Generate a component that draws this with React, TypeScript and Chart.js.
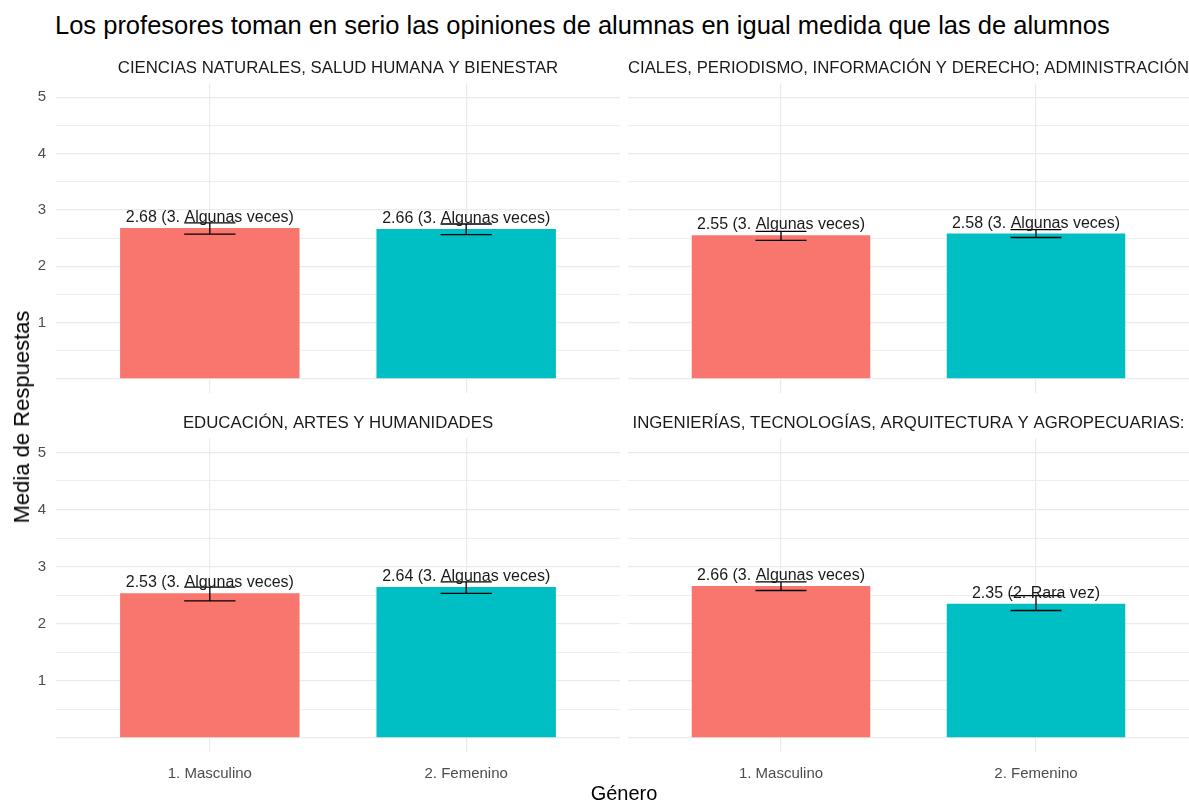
import React, { useEffect, useRef } from "react";
import { Chart, registerables } from "chart.js";

Chart.register(...registerables);

const FONT = "'Liberation Sans', Arial, sans-serif";

const titulo =
  "Los profesores toman en serio las opiniones de alumnas en igual medida que las de alumnos";
const tituloEjeY = "Media de Respuestas";
const tituloEjeX = "Género";

const areas = [
  "CIENCIAS NATURALES, SALUD HUMANA Y BIENESTAR",
  "CIALES, PERIODISMO, INFORMACIÓN Y DERECHO; ADMINISTRACIÓN",
  "EDUCACIÓN, ARTES Y HUMANIDADES",
  "INGENIERÍAS, TECNOLOGÍAS, ARQUITECTURA Y AGROPECUARIAS:",
];

const generos = ["1. Masculino", "2. Femenino"];
const generoPos = [1, 2];

const mediaMasculino = [2.68, 2.55, 2.53, 2.66];
const mediaFemenino = [2.66, 2.58, 2.64, 2.35];

const infMasculino = [2.57, 2.46, 2.4, 2.58];
const supMasculino = [2.77, 2.62, 2.64, 2.73];
const infFemenino = [2.56, 2.51, 2.53, 2.23];
const supFemenino = [2.75, 2.65, 2.73, 2.49];

const categoriaMasculino = ["3. Algunas veces", "3. Algunas veces", "3. Algunas veces", "3. Algunas veces"];
const categoriaFemenino = ["3. Algunas veces", "3. Algunas veces", "3. Algunas veces", "2. Rara vez"];

const yTicks = [0, 0.5, 1, 1.5, 2, 2.5, 3, 3.5, 4, 4.5, 5];
const colores = ["#F8766D", "#00BFC4"];

type PanelProps = {
  idx: number;
  left: number;
  top: number;
  width: number;
  height: number;
  showY: boolean;
  showX: boolean;
};

function zeroPadding(s: any) {
  s.paddingTop = 0;
  s.paddingBottom = 0;
  s.paddingLeft = 0;
  s.paddingRight = 0;
}

function Panel({ idx, left, top, width, height, showY, showX }: PanelProps) {
  const ref = useRef<HTMLCanvasElement | null>(null);

  useEffect(() => {
    if (!ref.current) return;
    const medias = [mediaMasculino[idx], mediaFemenino[idx]];
    const inf = [infMasculino[idx], infFemenino[idx]];
    const sup = [supMasculino[idx], supFemenino[idx]];
    const cats = [categoriaMasculino[idx], categoriaFemenino[idx]];

    const errorPlugin = {
      id: "errorYEtiquetas",
      afterDatasetsDraw(chart: any) {
        const ctx = chart.ctx;
        const xs = chart.scales.x;
        const ys = chart.scales.y;
        const meta = chart.getDatasetMeta(0);
        ctx.save();
        meta.data.forEach((el: any, i: number) => {
          const x = el.x;
          const half = Math.abs(xs.getPixelForValue(generoPos[i] + 0.1) - xs.getPixelForValue(generoPos[i]));
          const yl = ys.getPixelForValue(inf[i]);
          const yh = ys.getPixelForValue(sup[i]);
          ctx.strokeStyle = "#000000";
          ctx.lineWidth = 1.3;
          ctx.beginPath();
          ctx.moveTo(x, yl);
          ctx.lineTo(x, yh);
          ctx.moveTo(x - half, yl);
          ctx.lineTo(x + half, yl);
          ctx.moveTo(x - half, yh);
          ctx.lineTo(x + half, yh);
          ctx.stroke();
        });
        meta.data.forEach((el: any, i: number) => {
          const yTop = ys.getPixelForValue(medias[i]);
          ctx.fillStyle = "#1A1A1A";
          ctx.font = `16px ${FONT}`;
          ctx.textAlign = "center";
          ctx.textBaseline = "alphabetic";
          ctx.fillText(`${medias[i].toFixed(2)} (${cats[i]})`, el.x, yTop - 6);
        });
        ctx.restore();
      },
    };

    const chart = new Chart(ref.current, {
      type: "bar",
      data: {
        datasets: [
          {
            data: generoPos.map((g, i) => ({ x: g, y: medias[i] })),
            backgroundColor: colores,
            borderWidth: 0,
            barPercentage: 0.7,
            categoryPercentage: 1,
          },
        ],
      },
      options: {
        animation: false,
        responsive: false,
        layout: { padding: { left: 0, right: 0, top: 0, bottom: 0 } },
        plugins: {
          legend: { display: false },
          tooltip: { enabled: false },
          title: {
            display: true,
            text: areas[idx],
            fullSize: false,
            align: idx === 1 ? "start" : "center",
            color: "#1A1A1A",
            font: { size: 16.8, weight: "normal", family: FONT, lineHeight: 1.2 },
            padding: { top: 8, bottom: 5 },
          },
        },
        scales: {
          x: {
            type: "linear",
            min: 0.4,
            max: 2.6,
            offset: false,
            afterBuildTicks: (s: any) => {
              s.ticks = generoPos.map((v) => ({ value: v }));
            },
            afterFit: (s: any) => {
              s.height = showX ? 30 : 0;
              zeroPadding(s);
            },
            ticks: {
              display: showX,
              autoSkip: false,
              maxRotation: 0,
              padding: 13,
              color: "#4D4D4D",
              font: { size: 15, family: FONT },
              callback: (v: any) => {
                const k = generoPos.indexOf(Number(v));
                return k >= 0 ? generos[k] : "";
              },
            },
            grid: { color: "#EBEBEB", lineWidth: 1.2, drawTicks: false, offset: false },
            border: { display: false },
          },
          y: {
            min: -0.25,
            max: 5.25,
            afterBuildTicks: (s: any) => {
              s.ticks = yTicks.map((v) => ({ value: v }));
            },
            afterFit: (s: any) => {
              s.width = showY ? 56 : 8;
              zeroPadding(s);
            },
            ticks: {
              display: showY,
              autoSkip: false,
              padding: 10,
              color: "#4D4D4D",
              font: { size: 15, family: FONT },
              callback: (v: any) => (Number.isInteger(v) && v > 0 ? String(v) : ""),
            },
            grid: {
              color: "#EBEBEB",
              drawTicks: false,
              lineWidth: (c: any) => (c.tick && Number.isInteger(c.tick.value) ? 1.2 : 0.8),
            },
            border: { display: false },
          },
        },
      },
      plugins: [errorPlugin],
    } as any);
    return () => chart.destroy();
  }, [idx, showX, showY]);

  return (
    <canvas
      ref={ref}
      width={width}
      height={height}
      style={{ position: "absolute", left, top, width, height }}
    />
  );
}

export default function App() {
  return (
    <div
      style={{
        position: "absolute",
        left: 0,
        top: 0,
        width: 1189,
        height: 803,
        background: "#FFFFFF",
        overflow: "hidden",
        fontFamily: FONT,
      }}
    >
      <div
        style={{
          position: "absolute",
          left: 55,
          top: 9,
          fontSize: 25.5,
          color: "#000000",
          whiteSpace: "nowrap",
          lineHeight: "32px",
        }}
      >
        {titulo}
      </div>
      <Panel idx={0} left={0} top={50} width={620} height={343} showY={true} showX={false} />
      <Panel idx={1} left={620} top={50} width={569} height={343} showY={false} showX={false} />
      <Panel idx={2} left={0} top={405} width={620} height={377} showY={true} showX={true} />
      <Panel idx={3} left={620} top={405} width={569} height={377} showY={false} showX={true} />
      <div
        style={{
          position: "absolute",
          left: 22,
          top: 417,
          transform: "translate(-50%, -50%) rotate(-90deg)",
          fontSize: 22,
          color: "#000000",
          whiteSpace: "nowrap",
        }}
      >
        {tituloEjeY}
      </div>
      <div
        style={{
          position: "absolute",
          left: 624,
          top: 793,
          transform: "translate(-50%, -50%)",
          fontSize: 20,
          color: "#000000",
          whiteSpace: "nowrap",
        }}
      >
        {tituloEjeX}
      </div>
    </div>
  );
}
